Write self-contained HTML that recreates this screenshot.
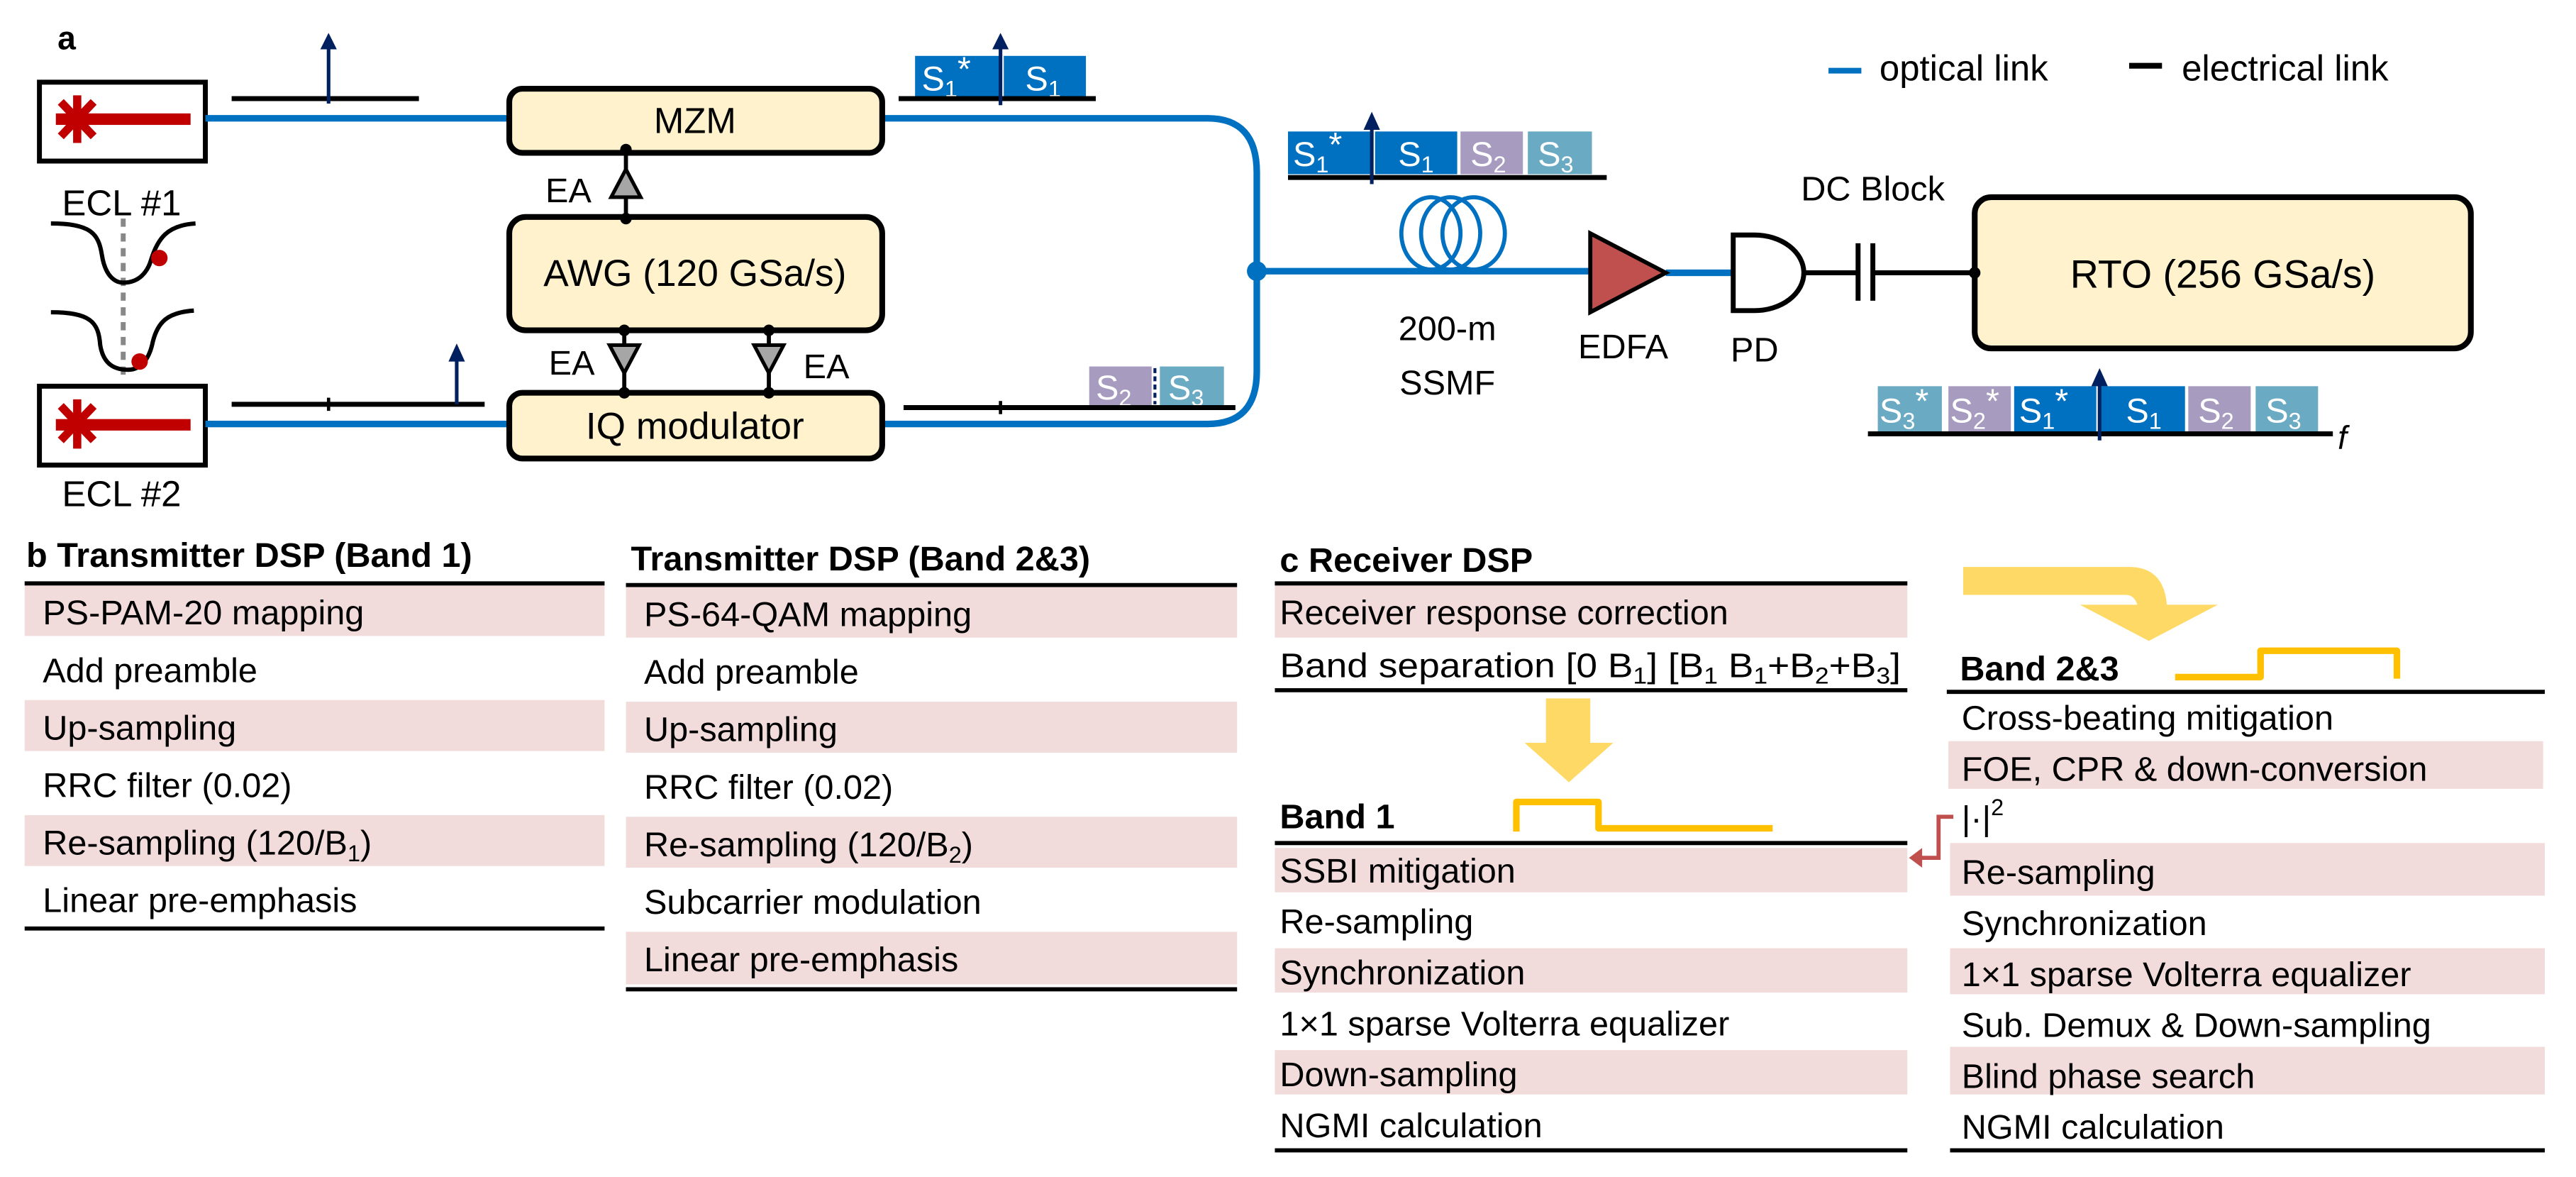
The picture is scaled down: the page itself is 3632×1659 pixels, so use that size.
<!DOCTYPE html>
<html><head><meta charset="utf-8"><style>
html,body{margin:0;padding:0;background:#fff;}
svg{display:block;}
text{font-family:"Liberation Sans",sans-serif;}
</style></head><body>
<svg width="3632" height="1659" viewBox="0 0 1568 716.2" xmlns="http://www.w3.org/2000/svg">
<rect width="1568" height="716.2" fill="#fff"/>
<g font-size="21">
<text x="35" y="30" font-weight="bold" font-size="20">a</text>

<!-- ECL boxes -->
<rect x="24" y="50" width="101" height="48" fill="#fff" stroke="#000" stroke-width="3"/>
<rect x="34" y="69" width="82" height="7" fill="#c00000"/>
<g stroke="#c00000" stroke-width="5"><line x1="47" y1="58" x2="47" y2="87"/><line x1="37" y1="62" x2="57" y2="83"/><line x1="57" y1="62" x2="37" y2="83"/></g>
<rect x="24" y="235" width="101" height="48" fill="#fff" stroke="#000" stroke-width="3"/>
<rect x="34" y="255" width="82" height="7" fill="#c00000"/>
<g stroke="#c00000" stroke-width="5"><line x1="47" y1="243" x2="47" y2="273"/><line x1="37" y1="247" x2="57" y2="268"/><line x1="57" y1="247" x2="37" y2="268"/></g>
<text x="74" y="131" text-anchor="middle" font-size="22">ECL #1</text>
<text x="74" y="308" text-anchor="middle" font-size="22">ECL #2</text>
<!-- dips -->
<line x1="75" y1="133" x2="75" y2="228" stroke="#888" stroke-width="3" stroke-dasharray="5,4"/>
<path d="M31,136 C55,136 60,142 62,155 C64,168 70,172 75,172 C85,172 90,165 92,158 C96,145 102,137 119,136" fill="none" stroke="#000" stroke-width="2.6"/>
<path d="M31,190 C55,190 60,196 61,210 C63,222 70,225 78,225 C86,225 91,218 93,208 C96,196 102,190 118,189" fill="none" stroke="#000" stroke-width="2.6"/>
<circle cx="97" cy="157" r="5" fill="#c00000"/>
<circle cx="85" cy="220" r="5" fill="#c00000"/>

<!-- electrical spectra -->
<line x1="141" y1="60" x2="255" y2="60" stroke="#000" stroke-width="3"/>
<line x1="200" y1="63" x2="200" y2="28" stroke="#002060" stroke-width="2.2"/>
<polygon points="195,30 205,30 200,20" fill="#002060"/>
<line x1="141" y1="246" x2="295" y2="246" stroke="#000" stroke-width="3"/>
<line x1="200" y1="242" x2="200" y2="250" stroke="#000" stroke-width="2"/>
<line x1="278" y1="246" x2="278" y2="218" stroke="#002060" stroke-width="2.2"/>
<polygon points="273,220 283,220 278,209" fill="#002060"/>

<!-- optical lines -->
<g fill="none" stroke="#0070c0" stroke-width="4">
<line x1="125" y1="72" x2="310" y2="72"/>
<line x1="125" y1="258" x2="310" y2="258"/>
<path d="M537,72 H735 Q765,72 765,105 V226 Q765,258 735,258 H537"/>
<line x1="765" y1="165" x2="970" y2="165"/>
<line x1="1014" y1="166" x2="1055" y2="166"/>
<ellipse cx="871" cy="142" rx="18" ry="22" stroke-width="2.5"/>
<ellipse cx="883" cy="142" rx="18" ry="22" stroke-width="2.5"/>
<ellipse cx="897" cy="142" rx="19" ry="22" stroke-width="2.5"/>
</g>
<circle cx="765" cy="165" r="6" fill="#0070c0"/>

<!-- boxes -->
<g fill="#fff2cc" stroke="#000" stroke-width="3.5">
<rect x="310" y="54" width="227" height="39" rx="8"/>
<rect x="310" y="132" width="227" height="69" rx="10"/>
<rect x="310" y="239" width="227" height="40" rx="8"/>
<rect x="1202" y="120" width="302" height="92" rx="10"/>
</g>
<text x="423" y="81" text-anchor="middle" font-size="22">MZM</text>
<text x="423" y="174" text-anchor="middle" font-size="23">AWG (120 GSa/s)</text>
<text x="423" y="267" text-anchor="middle" font-size="23">IQ modulator</text>
<text x="1353" y="175" text-anchor="middle" font-size="24">RTO (256 GSa/s)</text>

<!-- EAs -->
<g stroke="#000" stroke-width="2.5">
<line x1="381" y1="92" x2="381" y2="133"/>
<line x1="380" y1="201" x2="380" y2="239"/>
<line x1="468" y1="201" x2="468" y2="239"/>
</g>
<g fill="#a6a6a6" stroke="#000" stroke-width="2.2">
<polygon points="381,103 372,120 390,120"/>
<polygon points="371,210 389,210 380,227"/>
<polygon points="459,210 477,210 468,227"/>
</g>
<g fill="#000"><circle cx="381" cy="91" r="3.5"/><circle cx="381" cy="133" r="3.5"/><circle cx="380" cy="201" r="3.5"/><circle cx="380" cy="239" r="3.5"/><circle cx="468" cy="201" r="3.5"/><circle cx="468" cy="239" r="3.5"/></g>
<text x="332" y="123" font-size="21">EA</text>
<text x="334" y="228" font-size="21">EA</text>
<text x="489" y="230" font-size="21">EA</text>

<!-- spectrum S1* S1 -->
<rect x="557" y="34" width="52" height="25" fill="#0070c0"/>
<rect x="611" y="34" width="50" height="25" fill="#0070c0"/>
<g fill="#fff" font-size="21"><text x="561" y="55">S<tspan font-size="14" dy="4">1</tspan><tspan dy="-10">*</tspan></text><text x="624" y="55">S<tspan font-size="14" dy="4">1</tspan></text></g>
<line x1="547" y1="60" x2="667" y2="60" stroke="#000" stroke-width="3"/>
<line x1="609" y1="64" x2="609" y2="28" stroke="#002060" stroke-width="2.2"/>
<polygon points="604,30 614,30 609,20" fill="#002060"/>

<!-- S2 S3 -->
<rect x="663" y="223" width="38" height="24" fill="#a79bbf"/>
<rect x="706" y="223" width="39" height="24" fill="#6aaac3"/>
<line x1="703" y1="224" x2="703" y2="246" stroke="#002060" stroke-width="1.8" stroke-dasharray="3,2"/>
<g fill="#fff" font-size="21"><text x="667" y="243">S<tspan font-size="14" dy="4">2</tspan></text><text x="711" y="243">S<tspan font-size="14" dy="4">3</tspan></text></g>
<line x1="550" y1="248" x2="752" y2="248" stroke="#000" stroke-width="3"/>
<line x1="609" y1="244" x2="609" y2="252" stroke="#000" stroke-width="2"/>

<!-- S1* S1 S2 S3 upper -->
<rect x="784" y="80" width="51" height="26" fill="#0070c0"/>
<rect x="837" y="80" width="50" height="26" fill="#0070c0"/>
<rect x="889" y="80" width="38" height="26" fill="#a79bbf"/>
<rect x="930" y="80" width="39" height="26" fill="#6aaac3"/>
<g fill="#fff" font-size="21"><text x="787" y="101">S<tspan font-size="14" dy="4">1</tspan><tspan dy="-10">*</tspan></text><text x="851" y="101">S<tspan font-size="14" dy="4">1</tspan></text><text x="895" y="101">S<tspan font-size="14" dy="4">2</tspan></text><text x="936" y="101">S<tspan font-size="14" dy="4">3</tspan></text></g>
<line x1="784" y1="108" x2="978" y2="108" stroke="#000" stroke-width="3"/>
<line x1="835" y1="112" x2="835" y2="76" stroke="#002060" stroke-width="2.2"/>
<polygon points="830,79 840,79 835,68" fill="#002060"/>

<text x="881" y="207" text-anchor="middle" font-size="21">200-m</text>
<text x="881" y="240" text-anchor="middle" font-size="21">SSMF</text>

<!-- EDFA -->
<polygon points="968,142 1014,166 968,190" fill="#c0504d" stroke="#000" stroke-width="2.5"/>
<text x="988" y="218" text-anchor="middle" font-size="21">EDFA</text>
<!-- PD -->
<path d="M1055,143 H1068 A30,23 0 0 1 1068,189 H1055 Z" fill="#fff" stroke="#000" stroke-width="3"/>
<text x="1068" y="220" text-anchor="middle" font-size="21">PD</text>
<g stroke="#000" stroke-width="3">
<line x1="1098" y1="166" x2="1131" y2="166"/>
<line x1="1140" y1="166" x2="1202" y2="166"/>
<line x1="1131" y1="148" x2="1131" y2="183"/>
<line x1="1140" y1="148" x2="1140" y2="183"/>
</g>
<circle cx="1202" cy="166" r="3.5" fill="#000"/>
<text x="1140" y="122" text-anchor="middle" font-size="21">DC Block</text>

<!-- bottom spectrum -->
<rect x="1143" y="235" width="39" height="28" fill="#6aaac3"/>
<rect x="1186" y="235" width="38" height="28" fill="#a79bbf"/>
<rect x="1226" y="235" width="50" height="28" fill="#0070c0"/>
<rect x="1278" y="235" width="52" height="28" fill="#0070c0"/>
<rect x="1332" y="235" width="38" height="28" fill="#a79bbf"/>
<rect x="1373" y="235" width="38" height="28" fill="#6aaac3"/>
<g fill="#fff" font-size="21"><text x="1144" y="257">S<tspan font-size="14" dy="4">3</tspan><tspan dy="-10">*</tspan></text><text x="1187" y="257">S<tspan font-size="14" dy="4">2</tspan><tspan dy="-10">*</tspan></text><text x="1229" y="257">S<tspan font-size="14" dy="4">1</tspan><tspan dy="-10">*</tspan></text><text x="1294" y="257">S<tspan font-size="14" dy="4">1</tspan></text><text x="1338" y="257">S<tspan font-size="14" dy="4">2</tspan></text><text x="1379" y="257">S<tspan font-size="14" dy="4">3</tspan></text></g>
<line x1="1137" y1="264" x2="1420" y2="264" stroke="#000" stroke-width="3"/>
<line x1="1278" y1="268" x2="1278" y2="232" stroke="#002060" stroke-width="2.2"/>
<polygon points="1273,235 1283,235 1278,224" fill="#002060"/>
<text x="1423" y="273" font-style="italic" font-family="Liberation Serif" font-size="20">f</text>

<!-- legend -->
<line x1="1113" y1="43" x2="1133" y2="43" stroke="#0070c0" stroke-width="3.5"/>
<text x="1144" y="49" font-size="22">optical link</text>
<line x1="1296" y1="40" x2="1316" y2="40" stroke="#000" stroke-width="3.5"/>
<text x="1328" y="49" font-size="22">electrical link</text>

<!-- b tables -->
<g fill="#f2dcdb">
<rect x="15" y="356" width="353" height="31"/><rect x="15" y="426" width="353" height="31"/><rect x="15" y="496" width="353" height="31"/>
<rect x="381" y="357" width="372" height="31"/><rect x="381" y="427" width="372" height="31"/><rect x="381" y="497" width="372" height="31"/><rect x="381" y="567" width="372" height="32"/>
<rect x="776" y="356" width="385" height="32"/>
<rect x="776" y="516" width="385" height="27"/><rect x="776" y="577" width="385" height="27"/><rect x="776" y="639" width="385" height="27"/>
<rect x="1186" y="451" width="362" height="29"/><rect x="1187" y="513" width="362" height="32"/><rect x="1187" y="577" width="362" height="28"/><rect x="1187" y="637" width="362" height="29"/>
</g>
<g stroke="#000" stroke-width="2.5">
<line x1="15" y1="355" x2="368" y2="355"/><line x1="15" y1="565" x2="368" y2="565"/>
<line x1="381" y1="356" x2="753" y2="356"/><line x1="381" y1="602" x2="753" y2="602"/>
<line x1="776" y1="355" x2="1161" y2="355"/><line x1="776" y1="420" x2="1161" y2="420"/>
<line x1="776" y1="513" x2="1161" y2="513"/><line x1="776" y1="700" x2="1161" y2="700"/>
<line x1="1185" y1="421" x2="1549" y2="421"/><line x1="1187" y1="700" x2="1549" y2="700"/>
</g>
<g font-weight="bold" font-size="21">
<text x="16" y="345">b Transmitter DSP (Band 1)</text>
<text x="384" y="347">Transmitter DSP (Band 2&amp;3)</text>
<text x="779" y="348">c Receiver DSP</text>
<text x="779" y="504">Band 1</text>
<text x="1193" y="414">Band 2&amp;3</text>
</g>
<g font-size="21">
<text x="26" y="380">PS-PAM-20 mapping</text>
<text x="26" y="415">Add preamble</text>
<text x="26" y="450">Up-sampling</text>
<text x="26" y="485">RRC filter (0.02)</text>
<text x="26" y="520">Re-sampling (120/B<tspan font-size="14" dy="4">1</tspan><tspan dy="-4">)</tspan></text>
<text x="26" y="555">Linear pre-emphasis</text>
<text x="392" y="381">PS-64-QAM mapping</text>
<text x="392" y="416">Add preamble</text>
<text x="392" y="451">Up-sampling</text>
<text x="392" y="486">RRC filter (0.02)</text>
<text x="392" y="521">Re-sampling (120/B<tspan font-size="14" dy="4">2</tspan><tspan dy="-4">)</tspan></text>
<text x="392" y="556">Subcarrier modulation</text>
<text x="392" y="591">Linear pre-emphasis</text>
<text x="779" y="380">Receiver response correction</text>
<text x="779" y="412" textLength="378" lengthAdjust="spacingAndGlyphs">Band separation [0 B<tspan font-size="14" dy="4">1</tspan><tspan dy="-4">] [B</tspan><tspan font-size="14" dy="4">1</tspan><tspan dy="-4"> B</tspan><tspan font-size="14" dy="4">1</tspan><tspan dy="-4">+B</tspan><tspan font-size="14" dy="4">2</tspan><tspan dy="-4">+B</tspan><tspan font-size="14" dy="4">3</tspan><tspan dy="-4">]</tspan></text>
<text x="779" y="537">SSBI mitigation</text>
<text x="779" y="568">Re-sampling</text>
<text x="779" y="599">Synchronization</text>
<text x="779" y="630">1×1 sparse Volterra equalizer</text>
<text x="779" y="661">Down-sampling</text>
<text x="779" y="692">NGMI calculation</text>
<text x="1194" y="444">Cross-beating mitigation</text>
<text x="1194" y="475">FOE, CPR &amp; down-conversion</text>
<text x="1194" y="505">|·|<tspan font-size="14" dy="-9">2</tspan></text>
<text x="1194" y="538">Re-sampling</text>
<text x="1194" y="569">Synchronization</text>
<text x="1194" y="600">1×1 sparse Volterra equalizer</text>
<text x="1194" y="631">Sub. Demux &amp; Down-sampling</text>
<text x="1194" y="662">Blind phase search</text>
<text x="1194" y="693">NGMI calculation</text>
</g>

<!-- yellow arrows -->
<rect x="941" y="425" width="27" height="29" fill="#ffd966"/>
<polygon points="928,452 982,452 955,476" fill="#ffd966"/>
<path d="M1195,345 H1296 Q1317,345 1319,368 H1350 L1308,390 L1266,368 H1301 Q1299,362 1294,362 H1195 Z" fill="#ffd966"/>
<path d="M923,506 V488 H973 V504 H1079" fill="none" stroke="#ffc000" stroke-width="4" stroke-linejoin="round"/>
<path d="M1324,412 H1376 V396 H1459 V413" fill="none" stroke="#ffc000" stroke-width="4" stroke-linejoin="round"/>

<!-- red arrow -->
<path d="M1189,497 H1180 V522 H1168" fill="none" stroke="#c0504d" stroke-width="2.5"/>
<polygon points="1162,522 1170,516 1170,528" fill="#c0504d"/>
</g>
</svg>
</body></html>
